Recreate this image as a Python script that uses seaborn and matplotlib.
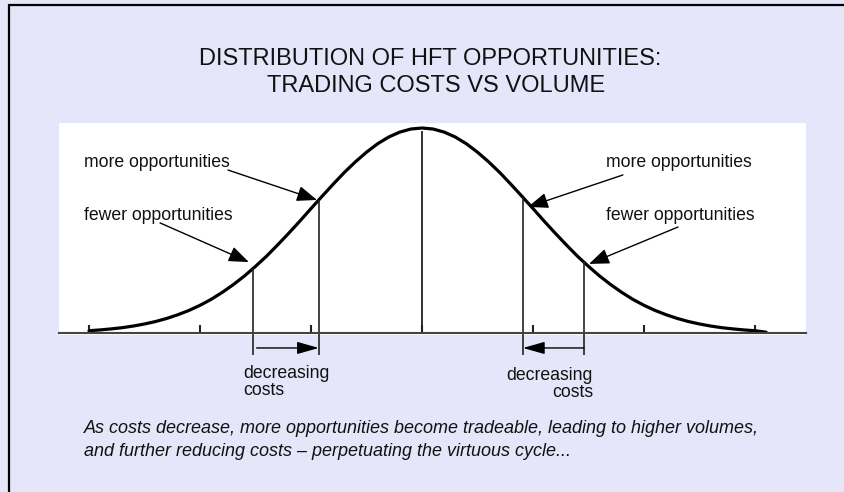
import matplotlib
matplotlib.use("Agg")
import matplotlib.pyplot as plt
from matplotlib.lines import Line2D
import seaborn as sns
import pandas as pd

# ---- data (x in standard deviations, y relative to peak) ----
curve_x = [-3.0, -2.9, -2.8, -2.7, -2.6, -2.5, -2.4, -2.3, -2.2, -2.1, -2.0,
           -1.9, -1.8, -1.7, -1.6, -1.5, -1.4, -1.3, -1.2, -1.1, -1.0,
           -0.9, -0.8, -0.7, -0.6, -0.5, -0.4, -0.3, -0.2, -0.1, 0.0,
           0.1, 0.2, 0.3, 0.4, 0.5, 0.6, 0.7, 0.8, 0.9, 1.0,
           1.1, 1.2, 1.3, 1.4, 1.5, 1.6, 1.7, 1.8, 1.9, 2.0,
           2.1, 2.2, 2.3, 2.4, 2.5, 2.6, 2.7, 2.8, 2.9, 3.0, 3.1]
curve_y = [0.011, 0.015, 0.020, 0.026, 0.034, 0.044, 0.056, 0.071, 0.089, 0.110, 0.135,
           0.164, 0.198, 0.236, 0.278, 0.325, 0.375, 0.430, 0.487, 0.546, 0.607,
           0.667, 0.726, 0.783, 0.835, 0.882, 0.923, 0.956, 0.980, 0.995, 1.000,
           0.995, 0.980, 0.956, 0.923, 0.882, 0.835, 0.783, 0.726, 0.667, 0.607,
           0.546, 0.487, 0.430, 0.375, 0.325, 0.278, 0.236, 0.198, 0.164, 0.135,
           0.110, 0.089, 0.071, 0.056, 0.044, 0.034, 0.026, 0.020, 0.015, 0.011, 0.004]
tick_positions = [-3, -2, -1, 0, 1, 2, 3]
center_line = (0.0, 0.985)
cut_x = [-1.52, -0.93, 0.91, 1.46]
cut_top = [0.315, 0.649, 0.661, 0.344]
cut_bottom = -0.107
# (start, end) of the "decreasing costs" arrows
cost_arrows = [(-1.49, -0.93), (1.46, 0.91)]
cost_arrow_y = -0.073

title_lines = ["DISTRIBUTION OF HFT OPPORTUNITIES:", "TRADING COSTS VS VOLUME"]
opp_labels = ["more opportunities", "fewer opportunities",
              "more opportunities", "fewer opportunities"]
opp_label_pos = [(-3.045, 0.81), (-3.045, 0.551), (1.655, 0.81), (1.655, 0.551)]
opp_arrow_from = [(-1.748, 0.795), (-2.36, 0.537), (1.81, 0.771), (2.306, 0.517)]
opp_arrow_to = [(-0.946, 0.649), (-1.56, 0.346), (0.955, 0.615), (1.505, 0.337)]
cost_label = "decreasing\ncosts"
caption_lines = ["As costs decrease, more opportunities become tradeable, leading to higher volumes,",
                 "and further reducing costs \u2013 perpetuating the virtuous cycle..."]

# ---- style ----
sns.set_theme(style="white")
plt.rcParams["font.family"] = ["Liberation Sans", "DejaVu Sans"]

W, H = 844, 492
BG = "#e6e6fa"
fig = plt.figure(figsize=(W / 100, H / 100), dpi=100, facecolor=BG)

# plot area (white rectangle)
left_px, right_px, top_px, bot_px = 59, 806, 123, 335
ax = fig.add_axes([left_px / W, 1 - bot_px / H, (right_px - left_px) / W, (bot_px - top_px) / H])
ax.set_facecolor("white")

df = pd.DataFrame({"x": curve_x, "y": curve_y})
sns.lineplot(data=df, x="x", y="y", ax=ax, color="black", linewidth=2.3,
             solid_capstyle="round", clip_on=False)

x_per_px = 1 / 111.0
y_per_px = 1 / 205.0
ax.set_xlim((left_px - 422) * x_per_px, (right_px - 422) * x_per_px)
ax.set_ylim(-(bot_px - 333) * y_per_px, (333 - top_px) * y_per_px)

for s in ["top", "left", "right"]:
    ax.spines[s].set_visible(False)
ax.spines["bottom"].set_position(("data", 0))
ax.spines["bottom"].set_color("#444444")
ax.spines["bottom"].set_linewidth(1.5)
ax.set_xticks(tick_positions)
ax.set_xticklabels([])
ax.set_yticks([])
ax.tick_params(axis="x", direction="in", length=5.5, width=1.5, color="#222222", bottom=True)
ax.set_xlabel("")
ax.set_ylabel("")

# central line
ax.vlines(center_line[0], 0, center_line[1], color="#222222", linewidth=1.3)
# cut lines
ax.vlines(cut_x, cut_bottom, cut_top, color="#222222", linewidth=1.2, clip_on=False)

# decreasing cost arrows
for (x0, x1) in cost_arrows:
    ax.annotate("", xy=(x1, cost_arrow_y), xytext=(x0, cost_arrow_y),
                arrowprops=dict(arrowstyle="-|>,head_length=0.95,head_width=0.27",
                                color="black", lw=1.0, shrinkA=0, shrinkB=0,
                                mutation_scale=14),
                annotation_clip=False)

# opportunity labels and arrows
for lab, (tx, ty) in zip(opp_labels, opp_label_pos):
    ax.text(tx, ty, lab, fontsize=12.7, color="#111111", ha="left", va="baseline")
for (fx, fy), (tx, ty) in zip(opp_arrow_from, opp_arrow_to):
    ax.annotate("", xy=(tx, ty), xytext=(fx, fy),
                arrowprops=dict(arrowstyle="-|>,head_length=0.88,head_width=0.34",
                                color="black", lw=1.0, shrinkA=0, shrinkB=0,
                                mutation_scale=14),
                annotation_clip=False)

# decreasing costs labels
ax.text(-1.61, -0.156, cost_label, fontsize=12.7, color="#111111", ha="left", va="top",
        multialignment="left", linespacing=1.0, clip_on=False)
ax.text(1.54, -0.168, cost_label, fontsize=12.7, color="#111111", ha="right", va="top",
        multialignment="right", linespacing=1.0, clip_on=False)

# title
fig.text(430 / W, 1 - 65 / H, title_lines[0], fontsize=17, ha="center", va="baseline", color="#111111")
fig.text(436 / W, 1 - 92 / H, title_lines[1], fontsize=17, ha="center", va="baseline", color="#111111")

# caption
fig.text(84 / W, 1 - 433 / H, caption_lines[0], fontsize=13, style="italic",
         ha="left", va="baseline", color="#111111")
fig.text(84 / W, 1 - 455.5 / H, caption_lines[1], fontsize=13, style="italic",
         ha="left", va="baseline", color="#111111")

# frame lines (top and left only)
fig.add_artist(Line2D([9 / W, 1.0], [1 - 5 / H, 1 - 5 / H], transform=fig.transFigure,
                      color="black", linewidth=1.6))
fig.add_artist(Line2D([9 / W, 9 / W], [0.0, 1 - 5 / H], transform=fig.transFigure,
                      color="black", linewidth=1.6))

fig.savefig("out.png", dpi=100, facecolor=BG)
